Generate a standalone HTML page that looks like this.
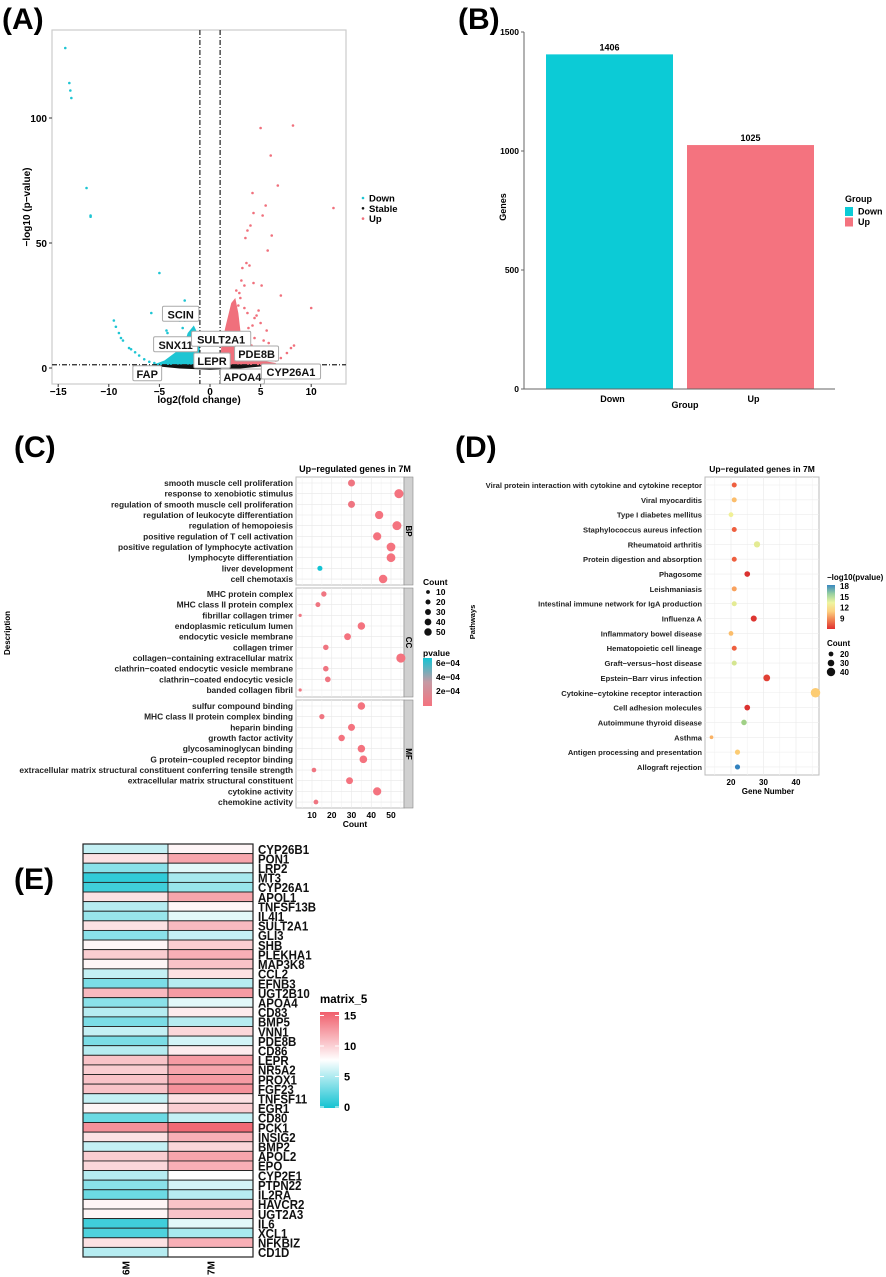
<!DOCTYPE html>
<html><head><meta charset="utf-8">
<style>
html,body{margin:0;padding:0;background:#fff;}
svg{display:block;font-family:"Liberation Sans",Arial,sans-serif;font-weight:bold;}
</style></head>
<body>
<svg id="fig" width="886" height="1277" viewBox="0 0 886 1277" xmlns="http://www.w3.org/2000/svg">
<text x="2" y="29" font-size="30">(A)</text>
<text x="458" y="29" font-size="30">(B)</text>
<text x="14" y="457" font-size="30">(C)</text>
<text x="455" y="457" font-size="30">(D)</text>
<text x="14" y="889" font-size="30">(E)</text>
<g id="A"></g>
<g id="B"></g>
<g id="C"></g>
<g id="D"></g>
<g id="E"></g>
</svg>
<script>
// ---------- Panel A data ----------
const downPts=[[-14.3,128],[-13.9,114],[-13.8,111],[-13.7,108],[-12.2,72],[-11.8,61],[-11.8,60.5],[-5,38],[-2.5,27],[-5.8,22],[-9.5,19],[-9.3,16.5],[-8.8,12],[-8.6,11],[-8,8],[-7.8,7.5],[-7,5],[-6.5,3.5],[-6,2.5],[-4.3,15],[-4.2,14],[-3,19],[-2.5,19],[-2.2,20],[-3.5,12],[-3.8,9],[-4.6,7],[-2.7,16],[-9,14],[-7.4,6.3],[-5.5,2]];
const upPts=[[5,96],[8.2,97],[6,85],[6.7,73],[4.2,70],[4.3,62],[5.5,65],[5.2,61],[12.2,64],[4,57],[3.7,55],[3.5,52],[6.1,53],[5.7,47],[3.2,40],[3.6,42],[3.9,41],[3.1,35],[4.3,34],[3.4,33],[5.1,33],[7,29],[10,24],[4.8,23],[3.7,22],[4.6,21],[4.4,20],[4.2,17],[5,18],[4.4,12],[5.3,11],[4.1,9],[5.8,10],[8.3,9],[8,8],[7.6,6],[7,4],[6.5,3],[3,28],[2.8,25],[3.4,24],[3.8,16],[5.6,15],[2.9,30],[2.6,31]];
const downCloud=[[-1,1],[-1,12],[-1.6,17],[-2.2,14],[-2.6,9],[-3.5,6],[-4.5,3],[-5.5,1.5],[-5.5,0.8]];
const upCloud=[[1,1],[1.1,8],[1.5,16],[2.1,26],[2.5,28],[2.8,22],[3.0,15],[3.3,9],[4,5],[5,3],[6.5,2],[6.5,1]];
const stableCloud=[[-6,1],[-3,1.4],[0,1.3],[3,1.4],[6,1],[3,-0.2],[0,-0.7],[-3,-0.2]];
const geneLabels=["SCIN","SNX11","SULT2A1","LEPR","PDE8B","FAP","APOA4","CYP26A1"];
const geneLabelX=[-2.9,-3.4,1.1,0.2,4.6,-6.2,3.2,8.0];
const geneLabelY=[21.5,9.3,11.5,2.8,5.6,-2.3,-3.6,-1.6];
const volXTicks=[-15,-10,-5,0,5,10];
const volYTicks=[0,50,100];
// ---------- Panel B ----------
const barGroups=["Down","Up"];
const barValues=[1406,1025];
const barYTicks=[0,500,1000,1500];
// ---------- Panel C ----------
const goTerms=["smooth muscle cell proliferation","response to xenobiotic stimulus","regulation of smooth muscle cell proliferation","regulation of leukocyte differentiation","regulation of hemopoiesis","positive regulation of T cell activation","positive regulation of lymphocyte activation","lymphocyte differentiation","liver development","cell chemotaxis","MHC protein complex","MHC class II protein complex","fibrillar collagen trimer","endoplasmic reticulum lumen","endocytic vesicle membrane","collagen trimer","collagen\u2212containing extracellular matrix","clathrin\u2212coated endocytic vesicle membrane","clathrin\u2212coated endocytic vesicle","banded collagen fibril","sulfur compound binding","MHC class II protein complex binding","heparin binding","growth factor activity","glycosaminoglycan binding","G protein\u2212coupled receptor binding","extracellular matrix structural constituent conferring tensile strength","extracellular matrix structural constituent","cytokine activity","chemokine activity"];
const goCounts=[30,54,30,44,53,43,50,50,14,46,16,13,4,35,28,17,55,17,18,4,35,15,30,25,35,36,11,29,43,12];
const goPvals=[1.6e-4,1.5e-4,1.6e-4,1.5e-4,1.5e-4,1.5e-4,1.5e-4,1.5e-4,6.2e-4,1.5e-4,1.6e-4,1.6e-4,1.6e-4,1.5e-4,1.5e-4,1.6e-4,1.5e-4,1.6e-4,1.6e-4,1.6e-4,1.5e-4,1.6e-4,1.5e-4,1.5e-4,1.5e-4,1.5e-4,1.6e-4,1.5e-4,1.5e-4,1.6e-4];
const goFacets=["BP","CC","MF"];
const goXTicks=[10,20,30,40,50];
// ---------- Panel D ----------
const keggPaths=["Viral protein interaction with cytokine and cytokine receptor","Viral myocarditis","Type I diabetes mellitus","Staphylococcus aureus infection","Rheumatoid arthritis","Protein digestion and absorption","Phagosome","Leishmaniasis","Intestinal immune network for IgA production","Influenza A","Inflammatory bowel disease","Hematopoietic cell lineage","Graft\u2212versus\u2212host disease","Epstein\u2212Barr virus infection","Cytokine\u2212cytokine receptor interaction","Cell adhesion molecules","Autoimmune thyroid disease","Asthma","Antigen processing and presentation","Allograft rejection"];
const keggCounts=[21,21,20,21,28,21,25,21,21,27,20,21,21,31,46,25,24,14,22,22];
const keggLogP=[8.6,10.5,12.5,8.6,12.8,8.6,7.3,10,12.8,7.4,10.5,8.6,13.2,7.7,10.8,7.3,14.5,10.3,10.8,18];
const keggXTicks=[20,30,40];
// ---------- Panel E ----------
const hmGenes=["CYP26B1","PON1","LRP2","MT3","CYP26A1","APOL1","TNFSF13B","IL4I1","SULT2A1","GLI3","SHB","PLEKHA1","MAP3K8","CCL2","EFNB3","UGT2B10","APOA4","CD83","BMP5","VNN1","PDE8B","CD86","LEPR","NR5A2","PROX1","FGF23","TNFSF11","EGR1","CD80","PCK1","INSIG2","BMP2","APOL2","EPO","CYP2E1","PTPN22","IL2RA","HAVCR2","UGT2A3","IL6","XCL1","NFKBIZ","CD1D"];
const hm6M=[6,9.5,4,1,1.5,9.5,5.5,4.5,9.5,4,8.5,10.5,8.5,6,3.5,11.5,4,5.5,3.5,6,3.5,5.5,11,10.5,11,11,6,8.5,3,13.5,9.5,6,10.5,10,5.5,4,3,8.5,8.5,1.5,2,9.5,5.5];
const hm7M=[8.5,12.5,7,5,4.5,12.5,8.5,7,11.5,6,10.5,12,11,9.5,5.5,13,7,9,5.5,10,6.5,9,13,12.5,13,13.5,9.5,10.5,6,15.5,12,10,12.5,12,8,6.5,5.5,11,11,7,5,12,8];
const hmCols=["6M","7M"];
const hmTicks=[0,5,10,15];

const NS="http://www.w3.org/2000/svg";
function mk(parent,tag,attrs,text){const e=document.createElementNS(NS,tag);for(const k in attrs)e.setAttribute(k,attrs[k]);if(text!==undefined)e.textContent=text;parent.appendChild(e);return e;}

// ===== Panel A =====
(function(){
const g=document.getElementById('A');
const L=52,R=346,T=30,Bt=384;
const sx=v=>210+v*10.12, sy=v=>368-v*2.5;
let e=mk(g,'rect',{x:L,y:T,width:R-L,height:Bt-T,fill:'#fff',stroke:'#ccc','stroke-width':1.2});

const poly=(pts,fill,name)=>{const p=mk(g,'polygon',{points:pts.map(q=>sx(q[0])+','+sy(q[1])).join(' '),fill:fill});};
poly(downCloud,'#1ec5d3','down-dense-cloud');poly(upCloud,'#f0707c','up-dense-cloud');poly(stableCloud,'#111','stable-cloud');
downPts.forEach(p=>{const c=mk(g,'circle',{cx:sx(p[0]),cy:sy(p[1]),r:1.3,fill:'#1ec5d3'});});
upPts.forEach(p=>{const c=mk(g,'circle',{cx:sx(p[0]),cy:sy(p[1]),r:1.3,fill:'#f0707c'});});
[-1,1].forEach(v=>{const l=mk(g,'line',{x1:sx(v),x2:sx(v),y1:T,y2:Bt,stroke:'#222','stroke-width':1.2,'stroke-dasharray':'5,2,1,2'});});
e=mk(g,'line',{x1:L,x2:R,y1:sy(1.3),y2:sy(1.3),stroke:'#222','stroke-width':1.2,'stroke-dasharray':'5,2,1,2'});
geneLabels.forEach((t,i)=>{const cx=sx(geneLabelX[i]),cy=sy(geneLabelY[i]);const w=t.length*7.6+6;
const r=mk(g,'rect',{x:cx-w/2,y:cy-8,width:w,height:15,fill:'#fff',stroke:'#aaa','stroke-width':1,rx:1.5});
const tx=mk(g,'text',{x:cx,y:cy+4,'font-size':11,'text-anchor':'middle',fill:'#111'},t);});
volXTicks.forEach(v=>{mk(g,'line',{x1:sx(v),x2:sx(v),y1:Bt,y2:Bt+3,stroke:'#333'});const t=mk(g,'text',{x:sx(v),y:Bt+11,'font-size':10,'text-anchor':'middle'},v===0?'0':String(v).replace('-','\u2212'));});
volYTicks.forEach(v=>{mk(g,'line',{x1:L-3,x2:L,y1:sy(v),y2:sy(v),stroke:'#333'});const t=mk(g,'text',{x:L-5,y:sy(v)+4,'font-size':10,'text-anchor':'end'},v);});
e=mk(g,'text',{x:199,y:403,'font-size':10,'text-anchor':'middle'},'log2(fold change)');
e=mk(g,'text',{x:0,y:0,'font-size':10,'text-anchor':'middle',transform:'translate(30,207) rotate(-90)'},'\u2212log10 (p\u2212value)');
[['Down','#1ec5d3'],['Stable','#111'],['Up','#f0707c']].forEach((d,i)=>{const y=198+i*10.3;mk(g,'circle',{cx:363,cy:y,r:1.3,fill:d[1]});const t=mk(g,'text',{x:369,y:y+3.5,'font-size':9.5},d[0]);});
})();

// ===== Panel B =====
(function(){
const g=document.getElementById('B');
const x0=524,y0=389,sy=v=>y0-v*(357/1500);
const bx=[546,687],bw=127,cols=['#0ccbd6','#f4737f'];
barValues.forEach((v,i)=>{const r=mk(g,'rect',{x:bx[i],y:sy(v),width:bw,height:y0-sy(v),fill:cols[i]});
const t=mk(g,'text',{x:bx[i]+bw/2,y:sy(v)-4,'font-size':9,'text-anchor':'middle'},v);
const l=mk(g,'text',{x:bx[i]+bw/2+3,y:y0+13,'font-size':9,'text-anchor':'middle'},barGroups[i]);});
mk(g,'line',{x1:x0,x2:x0,y1:32,y2:y0,stroke:'#666','stroke-width':1});
mk(g,'line',{x1:x0,x2:835,y1:y0,y2:y0,stroke:'#666','stroke-width':1});
barYTicks.forEach(v=>{mk(g,'line',{x1:x0-3,x2:x0,y1:sy(v),y2:sy(v),stroke:'#666'});const t=mk(g,'text',{x:x0-5,y:sy(v)+3,'font-size':8.5,'text-anchor':'end'},v);});
let e=mk(g,'text',{x:685,y:408,'font-size':9,'text-anchor':'middle'},'Group');
e=mk(g,'text',{x:0,y:0,'font-size':9,'text-anchor':'middle',transform:'translate(506,207) rotate(-90)'},'Genes');
e=mk(g,'text',{x:845,y:202,'font-size':9},'Group');
barGroups.forEach((n,i)=>{mk(g,'rect',{x:845,y:207+i*10.5,width:8,height:9,fill:cols[i]});const t=mk(g,'text',{x:858,y:214.5+i*10.5,'font-size':9},n);});
})();

// ===== Panel C =====
(function(){
const g=document.getElementById('C');
const L=296,R=404,sx=c=>312+(c-10)*1.975;
const facets=[[477,585],[588,697],[700,808]];
const rad=c=>0.5+0.55*Math.sqrt(c);
const pcol=p=>{const t=Math.max(0,Math.min(1,(p-1.5e-4)/(6.2e-4-1.5e-4)));const a=[244,115,127],b=[18,196,212];return 'rgb('+a.map((v,i)=>Math.round(v+(b[i]-v)*t)).join(',')+')';};
facets.forEach((f,fi)=>{mk(g,'rect',{x:L,y:f[0],width:R-L,height:f[1]-f[0],fill:'#fff',stroke:'#bbb'});
for(let c=5;c<=55;c+=5){mk(g,'line',{x1:sx(c),x2:sx(c),y1:f[0],y2:f[1],stroke:c%10===0?'#e8e8e8':'#f3f3f3','stroke-width':0.6});}
for(let r=0;r<10;r++){const y=f[0]+6+r*10.67;mk(g,'line',{x1:L,x2:R,y1:y,y2:y,stroke:'#e8e8e8','stroke-width':0.6});}
const s=mk(g,'rect',{x:R,y:f[0],width:9,height:f[1]-f[0],fill:'#d0d0d0',stroke:'#888','stroke-width':0.6});
const t=mk(g,'text',{x:0,y:0,'font-size':8,'text-anchor':'middle',transform:'translate('+(R+2)+','+((f[0]+f[1])/2)+') rotate(90)'},goFacets[fi]);});
goTerms.forEach((term,i)=>{const f=facets[Math.floor(i/10)];const y=f[0]+6+(i%10)*10.67;
const t=mk(g,'text',{x:L-3,y:y+3,'font-size':8.4,'text-anchor':'end',fill:'#222'},term);
const c=mk(g,'circle',{cx:sx(goCounts[i]),cy:y,r:rad(goCounts[i]),fill:pcol(goPvals[i])});});
goXTicks.forEach(v=>{const t=mk(g,'text',{x:sx(v),y:818,'font-size':8.5,'text-anchor':'middle'},v);});
let e=mk(g,'text',{x:355,y:827,'font-size':8.5,'text-anchor':'middle'},'Count');
e=mk(g,'text',{x:355,y:472,'font-size':9,'text-anchor':'middle'},'Up\u2212regulated genes in 7M');
e=mk(g,'text',{x:0,y:0,'font-size':8,'text-anchor':'middle',transform:'translate(10,633) rotate(-90)'},'Description');
e=mk(g,'text',{x:423,y:585,'font-size':8.5},'Count');
[10,20,30,40,50].forEach((v,i)=>{const y=592+i*10;mk(g,'circle',{cx:428,cy:y,r:rad(v)*0.85,fill:'#111'});const t=mk(g,'text',{x:436,y:y+3,'font-size':8.5},v);});
e=mk(g,'text',{x:423,y:656,'font-size':8.5},'pvalue');
const d=mk(g,'defs',{});const lg=mk(d,'linearGradient',{id:'pg',x1:0,y1:0,x2:0,y2:1});mk(lg,'stop',{offset:0,'stop-color':'#12c4d4'});mk(lg,'stop',{offset:0.5,'stop-color':'#c69aa4'});mk(lg,'stop',{offset:1,'stop-color':'#f4737f'});
mk(g,'rect',{x:423,y:658,width:9,height:48,fill:'url(#pg)'});
[['6e\u221204',663],['4e\u221204',677],['2e\u221204',691]].forEach(a=>{const t=mk(g,'text',{x:436,y:a[1]+3,'font-size':8.5},a[0]);});
})();

// ===== Panel D =====
(function(){
const g=document.getElementById('D');
const L=705,R=819,T=477,Bt=775,sx=c=>731+(c-20)*3.25;
const stops=[[7,[215,40,45]],[9,[244,109,67]],[11,[253,215,120]],[12.5,[240,240,150]],[15,[140,200,130]],[18,[50,130,190]]];
const col=v=>{if(v<=stops[0][0])return 'rgb('+stops[0][1]+')';for(let i=1;i<stops.length;i++){if(v<=stops[i][0]){const t=(v-stops[i-1][0])/(stops[i][0]-stops[i-1][0]);return 'rgb('+stops[i-1][1].map((a,k)=>Math.round(a+(stops[i][1][k]-a)*t)).join(',')+')';}}return 'rgb('+stops[stops.length-1][1]+')';};
mk(g,'rect',{x:L,y:T,width:R-L,height:Bt-T,fill:'#fff',stroke:'#bbb'});
for(let c=15;c<=45;c+=5)mk(g,'line',{x1:sx(c),x2:sx(c),y1:T,y2:Bt,stroke:c%10===0?'#e8e8e8':'#f3f3f3','stroke-width':0.6});
keggPaths.forEach((p,i)=>{const y=485+i*14.84;mk(g,'line',{x1:L,x2:R,y1:y,y2:y,stroke:'#ececec','stroke-width':0.6});
const t=mk(g,'text',{x:L-3,y:y+3,'font-size':7.6,'text-anchor':'end',fill:'#222'},p);
const c=mk(g,'circle',{cx:sx(keggCounts[i]),cy:y,r:0.6+0.09*keggCounts[i],fill:col(keggLogP[i])});});
keggXTicks.forEach(v=>{const t=mk(g,'text',{x:sx(v),y:785,'font-size':8,'text-anchor':'middle'},v);});
let e=mk(g,'text',{x:768,y:794,'font-size':8,'text-anchor':'middle'},'Gene Number');
e=mk(g,'text',{x:762,y:472,'font-size':8.5,'text-anchor':'middle'},'Up\u2212regulated genes in 7M');
e=mk(g,'text',{x:0,y:0,'font-size':7.5,'text-anchor':'middle',transform:'translate(475,622) rotate(-90)'},'Pathways');
e=mk(g,'text',{x:827,y:580,'font-size':8},'\u2212log10(pvalue)');
const d=mk(g,'defs',{});const lg=mk(d,'linearGradient',{id:'kg',x1:0,y1:0,x2:0,y2:1});
['#3a88c0','#98d0a0','#eef5a0','#fdd080','#f08050','#e03030'].forEach((c,i)=>mk(lg,'stop',{offset:i/5,'stop-color':c}));
mk(g,'rect',{x:827,y:585,width:8,height:44,fill:'url(#kg)'});
[['18',586],['15',597],['12',607.5],['9',618.5]].forEach(a=>{const t=mk(g,'text',{x:840,y:a[1]+3,'font-size':8},a[0]);});
e=mk(g,'text',{x:827,y:646,'font-size':8},'Count');
[20,30,40].forEach((v,i)=>{const y=654+i*9;mk(g,'circle',{cx:831,cy:y,r:0.6+0.09*v,fill:'#111'});const t=mk(g,'text',{x:840,y:y+3,'font-size':8},v);});
})();

// ===== Panel E =====
(function(){
const g=document.getElementById('E');
const L=83,W=85,T=844,H=413,rh=H/hmGenes.length;
const cy=[20,195,210],wh=[255,255,255],rd=[240,95,108];
const col=v=>{let a,b,t;if(v<8){a=cy;b=wh;t=v/8;}else{a=wh;b=rd;t=Math.min(1,(v-8)/8);}return 'rgb('+a.map((x,i)=>Math.round(x+(b[i]-x)*t)).join(',')+')';};
[hm6M,hm7M].forEach((arr,ci)=>{arr.forEach((v,ri)=>{const r=mk(g,'rect',{x:L+ci*W,y:T+ri*rh,width:W,height:rh,fill:col(v),stroke:'#222','stroke-width':0.9});});
const t=mk(g,'text',{x:0,y:0,'font-size':10,'text-anchor':'middle',transform:'translate('+(L+ci*W+W/2+4)+',1268) rotate(-90)'},hmCols[ci]);});
mk(g,'rect',{x:L,y:T,width:2*W,height:H,fill:'none',stroke:'#222','stroke-width':1.2});
hmGenes.forEach((n,ri)=>{const t=mk(g,'text',{x:258,y:T+ri*rh+rh/2+5,'font-size':12.5,fill:'#111',transform:'translate(258,0) scale(0.92,1) translate(-258,0)'},n);});
let e=mk(g,'text',{x:320,y:1003,'font-size':11.5},'matrix_5');
const d=mk(g,'defs',{});const lg=mk(d,'linearGradient',{id:'hg',x1:0,y1:1,x2:0,y2:0});
[0,4,8,12,16].forEach(v=>mk(lg,'stop',{offset:v/16,'stop-color':col(v)}));
mk(g,'rect',{x:320,y:1012,width:19,height:96,fill:'url(#hg)'});
hmTicks.forEach(v=>{const y=1107-v*6.1;mk(g,'line',{x1:320,x2:324,y1:y,y2:y,stroke:'#fff'});mk(g,'line',{x1:335,x2:339,y1:y,y2:y,stroke:'#fff'});const t=mk(g,'text',{x:344,y:y+4,'font-size':11},v);});
})();
</script>
</body></html>
